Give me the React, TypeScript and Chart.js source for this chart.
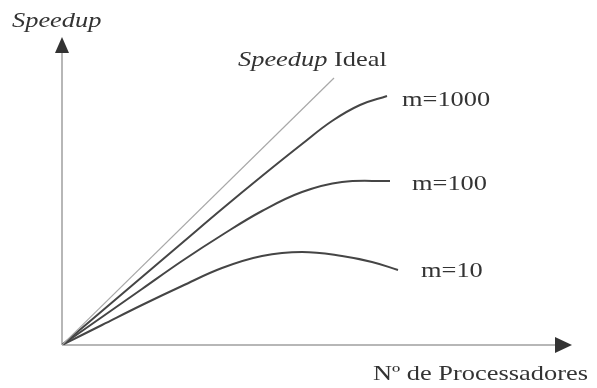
import React, { useEffect, useRef } from "react";
import { Chart, registerables } from "chart.js";

Chart.register(...registerables);

// Schematic data (units: processors vs speedup, arbitrary scale)
const idealProcs = [0, 272];
const idealSpeed = [0, 267];

const procs1000 = [0, 40, 80, 120, 160, 200, 240, 270, 298, 325];
const speed1000 = [0, 34, 68, 102, 136, 169, 201, 224, 240, 249];

const procs100 = [0, 40, 80, 120, 160, 200, 240, 280, 328];
const speed100 = [0, 28, 56, 84, 110, 134, 153, 163, 164];

const procs10 = [0, 40, 80, 120, 160, 200, 240, 280, 310, 336];
const speed10 = [0, 20, 40, 59, 77, 89, 93, 89, 83, 75];

const seriesLabels = ["m=1000", "m=100", "m=10"];
const idealLabelItalic = "Speedup";
const idealLabelRoman = " Ideal";
const yTitle = "Speedup";
const xTitle = "Nº de Processadores";

const X_MAX = 510;
const Y_MAX = 308;

const toPts = (xs: number[], ys: number[]) => xs.map((x, i) => ({ x, y: ys[i] }));

const FONT = "'Liberation Serif', 'Times New Roman', serif";
const TEXT_COLOR = "#333";
const SX = 1.2;

function drawParts(
  ctx: CanvasRenderingContext2D,
  parts: { t: string; italic?: boolean }[],
  x: number,
  y: number,
  size: number
) {
  ctx.save();
  ctx.translate(x, y);
  ctx.scale(SX, 1);
  ctx.fillStyle = TEXT_COLOR;
  ctx.textBaseline = "alphabetic";
  ctx.textAlign = "left";
  let cx = 0;
  for (const p of parts) {
    ctx.font = `${p.italic ? "italic " : ""}${size}px ${FONT}`;
    ctx.fillText(p.t, cx, 0);
    cx += ctx.measureText(p.t).width;
  }
  ctx.restore();
}

const decorPlugin = {
  id: "decor",
  beforeDatasetsDraw(chart: any) {
    const { ctx, chartArea } = chart;
    const { left, right, top, bottom } = chartArea;
    ctx.save();
    ctx.strokeStyle = "#a0a0a0";
    ctx.lineWidth = 1.5;
    ctx.beginPath();
    ctx.moveTo(left, bottom);
    ctx.lineTo(right - 14, bottom);
    ctx.moveTo(left, bottom);
    ctx.lineTo(left, top + 14);
    ctx.stroke();
    ctx.fillStyle = "#333";
    ctx.beginPath();
    ctx.moveTo(right, bottom);
    ctx.lineTo(right - 17, bottom - 8);
    ctx.lineTo(right - 17, bottom + 8);
    ctx.closePath();
    ctx.fill();
    ctx.beginPath();
    ctx.moveTo(left, top);
    ctx.lineTo(left - 7, top + 16);
    ctx.lineTo(left + 7, top + 16);
    ctx.closePath();
    ctx.fill();
    ctx.restore();
  },
  afterDraw(chart: any) {
    const { ctx, chartArea, scales } = chart;
    const xs = scales.x;
    const ys = scales.y;
    const size = 22;
    drawParts(ctx, [{ t: yTitle, italic: true }], chartArea.left - 50, chartArea.top - 10, size);
    drawParts(ctx, [{ t: xTitle }], chartArea.right - 199, chartArea.bottom + 35, size);
    const ix = xs.getPixelForValue(idealProcs[1]);
    const iy = ys.getPixelForValue(idealSpeed[1]);
    drawParts(
      ctx,
      [{ t: idealLabelItalic, italic: true }, { t: idealLabelRoman }],
      ix - 96,
      iy - 12,
      size
    );
    const ends = [
      [procs1000, speed1000, 15, 10],
      [procs100, speed100, 22, 9],
      [procs10, speed10, 23, 7],
    ] as [number[], number[], number, number][];
    ends.forEach(([px, py, dx, dy], i) => {
      const x = xs.getPixelForValue(px[px.length - 1]);
      const y = ys.getPixelForValue(py[py.length - 1]);
      drawParts(ctx, [{ t: seriesLabels[i] }], x + dx, y + dy, size);
    });
  },
};

export default function App() {
  const ref = useRef<HTMLCanvasElement | null>(null);
  useEffect(() => {
    if (!ref.current) return;
    const curve = (data: { x: number; y: number }[]) => ({
      data,
      borderColor: "#454545",
      borderWidth: 2,
      pointRadius: 0,
      tension: 0.4,
      fill: false,
    });
    const chart = new Chart(ref.current, {
      type: "line",
      data: {
        datasets: [
          {
            data: toPts(idealProcs, idealSpeed),
            borderColor: "#a8a8a8",
            borderWidth: 1.2,
            pointRadius: 0,
            fill: false,
          },
          curve(toPts(procs1000, speed1000)),
          curve(toPts(procs100, speed100)),
          curve(toPts(procs10, speed10)),
        ],
      },
      options: {
        animation: false,
        responsive: false,
        layout: { padding: { left: 62, right: 25, top: 37, bottom: 43 } },
        plugins: { legend: { display: false }, tooltip: { enabled: false } },
        scales: {
          x: { type: "linear", min: 0, max: X_MAX, display: false },
          y: { type: "linear", min: 0, max: Y_MAX, display: false },
        },
      },
      plugins: [decorPlugin],
    });
    return () => chart.destroy();
  }, []);
  return (
    <div style={{ position: "absolute", left: 0, top: 0, width: 597, height: 388, background: "#fff" }}>
      <canvas ref={ref} width={597} height={388} style={{ display: "block" }} />
    </div>
  );
}
